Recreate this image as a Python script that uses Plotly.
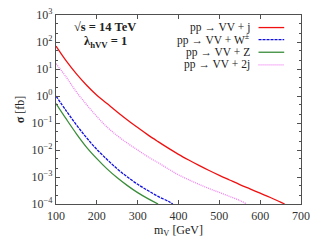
import plotly.graph_objects as go

# data (m_V in GeV, sigma in fb)
mv_j = [100, 125, 150, 175, 200, 225, 250, 275, 300, 325, 350, 375, 400, 425, 450, 475, 500, 525, 550, 575, 600, 625, 650, 660]
sig_j = [70.8, 20.0, 6.61, 2.51, 1.07, 0.525, 0.257, 0.129, 0.0676, 0.0363, 0.0204, 0.0117, 0.00692, 0.00427, 0.00269, 0.00174, 0.00115, 0.000776, 0.000525, 0.000363, 0.000251, 0.000174, 0.000117, 0.0001]

mv_w = [100, 125, 150, 175, 200, 225, 250, 275, 300, 325, 350, 375, 386]
sig_w = [1.0, 0.282, 0.0851, 0.0282, 0.0105, 0.00447, 0.00200, 0.00100, 0.000537, 0.000316, 0.000191, 0.000126, 0.0001]

mv_z = [100, 125, 150, 175, 200, 225, 250, 275, 300, 325, 350]
sig_z = [0.525, 0.141, 0.0398, 0.0126, 0.00479, 0.00200, 0.000933, 0.000479, 0.000263, 0.000158, 0.0001]

mv_2j = [100, 125, 150, 175, 200, 225, 250, 275, 300, 325, 350, 375, 400, 425, 450, 475, 500, 525, 550, 567]
sig_2j = [15.8, 5.01, 1.41, 0.479, 0.174, 0.0708, 0.0339, 0.0178, 0.0100, 0.00562, 0.00339, 0.00200, 0.00120, 0.000794, 0.000537, 0.000372, 0.000269, 0.000191, 0.000135, 0.0001]

labels = ["pp → VV + j", "pp → VV + W<sup>±</sup>", "pp → VV + Z", "pp → VV + 2j"]
colors = ["#f01010", "#1010e0", "#3a8c3a", "#f07ef0"]
dashes = ["solid", "3px,1px", "solid", "1px,1px"]

ytick_vals = [1e3, 1e2, 1e1, 1e0, 1e-1, 1e-2, 1e-3, 1e-4]
ytick_text = ["10<sup>3</sup>", "10<sup>2</sup>", "10<sup>1</sup>", "10<sup>0</sup>",
              "10<sup>−1</sup>", "10<sup>−2</sup>", "10<sup>−3</sup>", "10<sup>−4</sup>"]
xtick_vals = [100, 200, 300, 400, 500, 600, 700]

FONT = "Liberation Serif"
W, H = 317, 240
L, R, T, B = 56, 13, 7, 30
pw, ph = W - L - R, H - T - B

fig = go.Figure()
series = [(mv_j, sig_j), (mv_w, sig_w), (mv_z, sig_z), (mv_2j, sig_2j)]
for (x, y), name, c, d in zip(series, labels, colors, dashes):
    fig.add_trace(go.Scatter(x=x, y=y, mode="lines", name=name, showlegend=False,
                             line=dict(color=c, width=1.3, dash=d, shape="spline")))

axcol = "#505050"
fig.update_xaxes(range=[100, 700], tickvals=xtick_vals, ticks="inside", ticklen=4,
                 showline=True, linecolor=axcol, linewidth=1.4, mirror="allticks",
                 tickcolor=axcol, showgrid=False, zeroline=False,
                 tickfont=dict(family=FONT, size=12, color="#333"),
                 title=dict(text="m<sub>V</sub> [GeV]", font=dict(family=FONT, size=12, color="#222"), standoff=2))
fig.update_yaxes(type="log", range=[-4, 3], tickvals=ytick_vals, ticktext=ytick_text,
                 ticks="inside", ticklen=4, showline=True, linecolor=axcol, linewidth=1.4,
                 mirror="allticks", tickcolor=axcol, showgrid=False, zeroline=False,
                 minor=dict(ticks="inside", ticklen=2, tickcolor=axcol, showgrid=False),
                 tickfont=dict(family=FONT, size=12, color="#333"),
                 title=dict(text="<b>σ</b> [fb]", font=dict(family=FONT, size=12, color="#222"), standoff=4))

def px(x):
    return (x - L) / pw

def py(y):
    return (H - B - y) / ph

annotations = [
    dict(x=px(106), y=py(20), text="<b>√s = 14 TeV</b>", showarrow=False, xref="paper", yref="paper",
         xanchor="center", yanchor="middle", font=dict(family=FONT, size=12.5, color="#222")),
    dict(x=px(106), y=py(36.5), text="<b>λ<sub>hVV</sub> = 1</b>", showarrow=False, xref="paper", yref="paper",
         xanchor="center", yanchor="middle", font=dict(family=FONT, size=12.5, color="#222")),
]
shapes = []
rows = [20.5, 33.5, 47, 60.5]
for lab, c, d, ry in zip(labels, colors, dashes, rows):
    annotations.append(dict(x=px(254), y=py(ry), text=lab, showarrow=False, xref="paper", yref="paper",
                            xanchor="right", yanchor="middle", font=dict(family=FONT, size=11.5, color="#222")))
    shapes.append(dict(type="line", xref="paper", yref="paper", x0=px(261), x1=px(287), y0=py(ry), y1=py(ry),
                       line=dict(color=c, width=1.3, dash=d)))

fig.update_layout(width=W, height=H, margin=dict(l=L, r=R, t=T, b=B),
                  paper_bgcolor="white", plot_bgcolor="white",
                  annotations=annotations, shapes=shapes)
fig.write_html("out.html", config={"displayModeBar": False},
               post_script="document.body.style.margin='0';document.body.style.overflow='hidden';")
